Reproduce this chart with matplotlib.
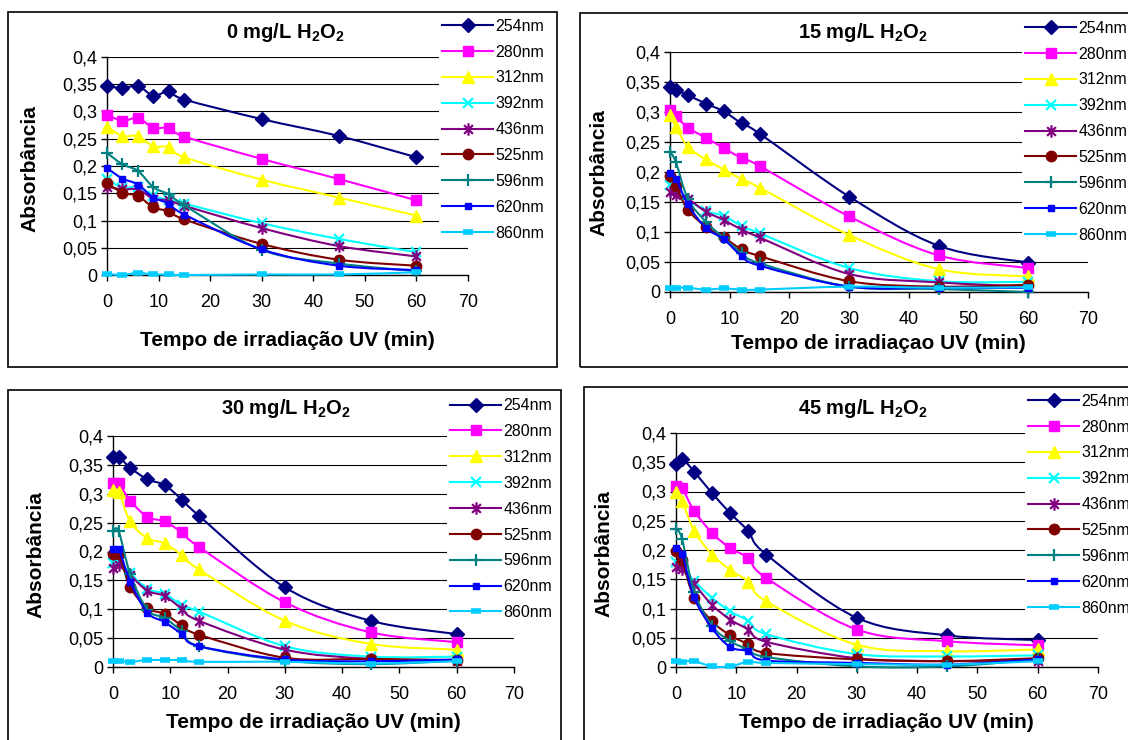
"""
Absorbance vs. UV irradiation time at nine wavelengths, for four H2O2 doses.
Redraws the old 2x2 Excel figure (smoothed lines, boxed panels) with matplotlib.
"""
import matplotlib

matplotlib.use("Agg")
import matplotlib.pyplot as plt  # noqa: E402
import numpy as np  # noqa: E402
from matplotlib.lines import Line2D  # noqa: E402
from matplotlib.patches import PathPatch, Rectangle  # noqa: E402
from matplotlib.path import Path  # noqa: E402
from matplotlib.ticker import FuncFormatter, MultipleLocator  # noqa: E402

# ---- data ----
WAVELENGTHS = ["254nm", "280nm", "312nm", "392nm", "436nm", "525nm", "596nm", "620nm", "860nm"]

TIME_0MG = [0, 3, 6, 9, 12, 15, 30, 45, 60]
TIME_H2O2 = [0, 1, 3, 6, 9, 12, 15, 30, 45, 60]

# one row per wavelength, same order as WAVELENGTHS
ABS_0MG = [
    [0.347, 0.343, 0.347, 0.329, 0.337, 0.322, 0.286, 0.255, 0.216],
    [0.294, 0.283, 0.288, 0.270, 0.270, 0.254, 0.213, 0.176, 0.137],
    [0.272, 0.255, 0.255, 0.236, 0.235, 0.216, 0.175, 0.142, 0.109],
    [0.177, 0.160, 0.162, 0.145, 0.138, 0.131, 0.095, 0.066, 0.042],
    [0.162, 0.157, 0.157, 0.140, 0.137, 0.127, 0.086, 0.053, 0.034],
    [0.169, 0.151, 0.145, 0.124, 0.117, 0.102, 0.057, 0.028, 0.017],
    [0.224, 0.203, 0.191, 0.161, 0.148, 0.128, 0.046, 0.021, 0.007],
    [0.196, 0.177, 0.166, 0.142, 0.131, 0.111, 0.047, 0.017, 0.009],
    [0.002, 0.000, 0.004, 0.001, 0.001, 0.000, 0.001, 0.001, 0.005],
]
ABS_15MG = [
    [0.341, 0.337, 0.328, 0.314, 0.301, 0.281, 0.264, 0.159, 0.077, 0.049],
    [0.303, 0.293, 0.274, 0.257, 0.240, 0.223, 0.210, 0.126, 0.061, 0.040],
    [0.295, 0.275, 0.242, 0.221, 0.204, 0.188, 0.174, 0.095, 0.038, 0.026],
    [0.178, 0.168, 0.154, 0.135, 0.127, 0.110, 0.098, 0.040, 0.018, 0.017],
    [0.167, 0.162, 0.155, 0.134, 0.120, 0.104, 0.091, 0.030, 0.016, 0.009],
    [0.193, 0.177, 0.137, 0.109, 0.091, 0.071, 0.060, 0.018, 0.009, 0.012],
    [0.234, 0.216, 0.155, 0.117, 0.090, 0.065, 0.048, 0.009, 0.005, 0.000],
    [0.199, 0.189, 0.146, 0.107, 0.088, 0.060, 0.044, 0.009, 0.007, 0.007],
    [0.007, 0.007, 0.007, 0.004, 0.006, 0.004, 0.004, 0.009, 0.007, 0.008],
]
ABS_30MG = [
    [0.364, 0.364, 0.345, 0.325, 0.315, 0.290, 0.262, 0.138, 0.080, 0.057],
    [0.318, 0.318, 0.288, 0.260, 0.252, 0.233, 0.208, 0.112, 0.060, 0.043],
    [0.306, 0.303, 0.252, 0.223, 0.214, 0.194, 0.169, 0.080, 0.040, 0.030],
    [0.180, 0.182, 0.162, 0.135, 0.127, 0.107, 0.096, 0.036, 0.018, 0.018],
    [0.172, 0.177, 0.159, 0.132, 0.123, 0.101, 0.080, 0.030, 0.014, 0.011],
    [0.196, 0.196, 0.139, 0.102, 0.092, 0.072, 0.056, 0.016, 0.014, 0.012],
    [0.235, 0.235, 0.161, 0.099, 0.085, 0.062, 0.036, 0.011, 0.005, 0.011],
    [0.204, 0.204, 0.148, 0.094, 0.078, 0.057, 0.036, 0.013, 0.010, 0.013],
    [0.010, 0.011, 0.009, 0.012, 0.012, 0.012, 0.009, 0.009, 0.006, 0.010],
]
ABS_45MG = [
    [0.347, 0.356, 0.334, 0.297, 0.263, 0.232, 0.192, 0.084, 0.054, 0.046],
    [0.310, 0.306, 0.267, 0.229, 0.203, 0.186, 0.152, 0.064, 0.044, 0.037],
    [0.300, 0.284, 0.233, 0.192, 0.166, 0.146, 0.112, 0.038, 0.027, 0.030],
    [0.180, 0.172, 0.147, 0.118, 0.095, 0.079, 0.056, 0.022, 0.018, 0.020],
    [0.171, 0.167, 0.142, 0.106, 0.081, 0.064, 0.043, 0.015, 0.010, 0.011],
    [0.198, 0.183, 0.118, 0.078, 0.054, 0.039, 0.024, 0.013, 0.010, 0.015],
    [0.236, 0.219, 0.129, 0.070, 0.044, 0.030, 0.017, 0.001, 0.001, 0.013],
    [0.203, 0.193, 0.119, 0.066, 0.034, 0.027, 0.011, 0.007, 0.004, 0.013],
    [0.010, 0.009, 0.010, 0.001, 0.001, 0.009, 0.007, 0.005, 0.004, 0.010],
]

TITLES = [
    r"0 mg/L H$_\mathbf{2}$O$_\mathbf{2}$",
    r"15 mg/L H$_\mathbf{2}$O$_\mathbf{2}$",
    r"30 mg/L H$_\mathbf{2}$O$_\mathbf{2}$",
    r"45 mg/L H$_\mathbf{2}$O$_\mathbf{2}$",
]
XLABELS = [
    "Tempo de irradiação UV (min)",
    "Tempo de irradiaçao UV (min)",
    "Tempo de irradiação UV (min)",
    "Tempo de irradiação UV (min)",
]
YLABEL = "Absorbância"

# ---- styling ----
W, H = 1128, 740

# Excel "star": vertical bar plus an X
STAR = Path(
    [(0, -1), (0, 1), (-0.7, -0.7), (0.7, 0.7), (-0.7, 0.7), (0.7, -0.7)],
    [Path.MOVETO, Path.LINETO] * 3,
)

STYLES = [
    dict(color="#000080", marker="D", ms=7.5),
    dict(color="#FF00FF", marker="s", ms=7.5),
    dict(color="#FFFF00", marker="^", ms=8.5),
    dict(color="#00FFFF", marker="x", ms=7.5, mew=1.6),
    dict(color="#800080", marker=STAR, ms=9, mew=1.6),
    dict(color="#800000", marker="o", ms=7.5),
    dict(color="#008080", marker="+", ms=9, mew=1.6),
    dict(color="#0000FF", marker="s", ms=4),
    dict(color="#00CCFF", marker="_", ms=7, mew=4),
]

# pixel boxes (left, top, right, bottom) etc., measured on the 1128x740 original
LAYOUT = [
    dict(frame=(8, 12, 557, 367), axes=(107, 468, 57, 275), title=(285, 33),
         legend=(439, 15.5), ylabel=(30, 169), xlabel=(287, 340)),
    dict(frame=(580, 13, 1140, 367), axes=(670, 1088, 52, 292), title=(863, 33),
         legend=(1022, 17.5), ylabel=(599, 173), xlabel=(878, 343)),
    dict(frame=(8, 390, 561, 750), axes=(113, 514, 436, 667), title=(286, 408),
         legend=(447, 395), ylabel=(36, 555), xlabel=(313, 722)),
    dict(frame=(584, 387, 1140, 750), axes=(676, 1098, 433, 667), title=(863, 408),
         legend=(1025, 390.5), ylabel=(604, 554), xlabel=(886, 722)),
]

plt.rcParams["font.family"] = ["Liberation Sans", "DejaVu Sans"]
plt.rcParams["mathtext.fontset"] = "custom"
plt.rcParams["mathtext.rm"] = "Liberation Sans"
plt.rcParams["mathtext.bf"] = "Liberation Sans:bold"


def fx(x):
    return x / W


def fy(y):
    return 1 - y / H


def smooth_path(x, y):
    """Catmull-Rom style Bezier through the points, like Excel's 'smoothed line'."""
    pts = np.column_stack([x, y]).astype(float)
    n = len(pts)
    verts, codes = [pts[0]], [Path.MOVETO]
    for i in range(n - 1):
        p0 = pts[i - 1] if i > 0 else pts[i]
        p1, p2 = pts[i], pts[i + 1]
        p3 = pts[i + 2] if i + 2 < n else pts[i + 1]
        verts += [p1 + (p2 - p0) / 6, p2 - (p3 - p1) / 6, p2]
        codes += [Path.CURVE4] * 3
    return Path(verts, codes)


def draw_panel(fig, lay, times, rows, title, xlabel):
    l, t, r, b = lay["frame"]
    fig.add_artist(Rectangle((fx(l), fy(b)), fx(r - l), (b - t) / H, transform=fig.transFigure,
                             fill=False, edgecolor="black", linewidth=1.2, zorder=-1))

    x0, x1, ytop, ybot = lay["axes"]
    ax = fig.add_axes([fx(x0), fy(ybot), fx(x1 - x0), (ybot - ytop) / H])

    for i, (vals, st) in enumerate(zip(rows, STYLES)):
        ax.add_patch(PathPatch(smooth_path(times, vals), fill=False, edgecolor=st["color"],
                               linewidth=1.5, clip_on=False, zorder=3 + i * 0.1))
        ax.plot(times, vals, linestyle="none", marker=st["marker"], ms=st["ms"],
                mew=st.get("mew", 1.0), color=st["color"], mec=st["color"],
                clip_on=False, zorder=3.05 + i * 0.1)

    ax.set_xlim(0, 70)
    ax.set_ylim(0, 0.4)
    ax.xaxis.set_major_locator(MultipleLocator(10))
    ax.yaxis.set_major_locator(MultipleLocator(0.05))
    ax.yaxis.set_major_formatter(FuncFormatter(lambda v, _: f"{v:g}".replace(".", ",")))
    ax.grid(axis="y", color="black", linewidth=0.8)
    ax.set_axisbelow(True)
    for side in ("top", "right"):
        ax.spines[side].set_visible(False)
    for side in ("left", "bottom"):
        ax.spines[side].set_linewidth(1.0)
    ax.tick_params(axis="both", direction="out", length=4, width=1.0, labelsize=13)
    ax.tick_params(axis="x", pad=10)
    ax.tick_params(axis="y", pad=3)

    handles = [Line2D([0], [0], color=st["color"], linewidth=1.5, marker=st["marker"],
                      ms=st["ms"], mew=st.get("mew", 1.0), mec=st["color"])
               for st in STYLES]
    lx, ly = lay["legend"]
    leg = ax.legend(handles, WAVELENGTHS, loc="upper left", bbox_to_anchor=(fx(lx), fy(ly)),
                    bbox_transform=fig.transFigure, borderaxespad=0, borderpad=0.2,
                    fontsize=11.5, handlelength=3.2, handletextpad=0.15, labelspacing=0.68,
                    frameon=True, fancybox=False, framealpha=1)
    leg.get_frame().set_edgecolor("none")
    leg.set_zorder(10)

    fig.text(fx(lay["title"][0]), fy(lay["title"][1]), title, ha="center", va="center",
             fontsize=14.5, fontweight="bold")
    fig.text(fx(lay["ylabel"][0]), fy(lay["ylabel"][1]), YLABEL, ha="center", va="center",
             rotation=90, fontsize=15, fontweight="bold")
    fig.text(fx(lay["xlabel"][0]), fy(lay["xlabel"][1]), xlabel, ha="center", va="center",
             fontsize=15, fontweight="bold")


def main():
    fig = plt.figure(figsize=(W / 100, H / 100), dpi=100)
    panels = [
        (TIME_0MG, ABS_0MG),
        (TIME_H2O2, ABS_15MG),
        (TIME_H2O2, ABS_30MG),
        (TIME_H2O2, ABS_45MG),
    ]
    for lay, (times, rows), title, xlabel in zip(LAYOUT, panels, TITLES, XLABELS):
        draw_panel(fig, lay, times, rows, title, xlabel)
    fig.savefig("out.png", dpi=100)


if __name__ == "__main__":
    main()
